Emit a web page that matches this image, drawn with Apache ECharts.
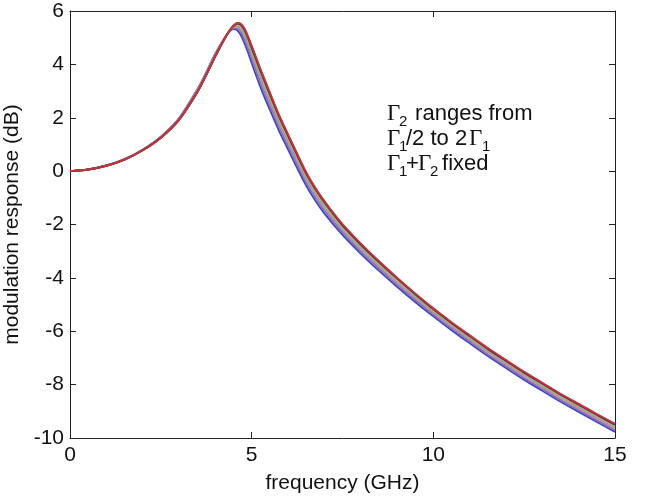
<!DOCTYPE html>
<html>
<head>
<meta charset="utf-8">
<script src="https://cdn.jsdelivr.net/npm/echarts@6/dist/echarts.min.js"></script>
<style>html,body{margin:0;padding:0;background:#fff}#c{width:646px;height:499px}</style>
</head>
<body>
<div id="c"></div>
<script>
// frequency (GHz)
var freq = [0,0.5,1,1.5,2,2.5,3,3.5,3.75,4,4.25,4.4,4.5,4.6,4.7,4.8,4.9,5,5.25,5.5,5.75,6,6.25,6.5,6.75,7,7.5,8,8.5,9,9.5,10,10.5,11,11.5,12,12.5,13,13.5,14,14.5,15];
// modulation response (dB), curves from lowest peak to highest peak
var curveBlue   = [0,0.06,0.21,0.45,0.8,1.29,1.98,3.05,3.7,4.4,4.98,5.25,5.32,5.28,5.1,4.8,4.45,4.05,3.12,2.3,1.52,0.82,0.12,-0.54,-1.10,-1.58,-2.39,-3.09,-3.73,-4.33,-4.90,-5.44,-5.96,-6.45,-6.93,-7.38,-7.82,-8.23,-8.64,-9.02,-9.40,-9.77];
var curvePurple = [0,0.06,0.21,0.45,0.8,1.28,1.97,3.03,3.68,4.38,4.98,5.26,5.36,5.35,5.21,4.94,4.6,4.22,3.29,2.46,1.67,0.96,0.26,-0.42,-0.98,-1.47,-2.29,-3.00,-3.64,-4.25,-4.82,-5.37,-5.89,-6.38,-6.86,-7.31,-7.75,-8.16,-8.57,-8.95,-9.33,-9.70];
var curveGrey   = [0,0.06,0.21,0.44,0.79,1.27,1.95,3.0,3.65,4.35,4.97,5.27,5.39,5.42,5.32,5.08,4.75,4.38,3.46,2.62,1.82,1.1,0.39,-0.29,-0.86,-1.35,-2.19,-2.90,-3.55,-4.16,-4.74,-5.29,-5.81,-6.30,-6.78,-7.23,-7.67,-8.08,-8.49,-8.87,-9.25,-9.62];
var curveTan    = [0,0.06,0.2,0.43,0.78,1.26,1.93,2.97,3.62,4.32,4.96,5.28,5.42,5.49,5.42,5.22,4.9,4.54,3.63,2.79,1.97,1.24,0.53,-0.17,-0.74,-1.24,-2.09,-2.80,-3.46,-4.07,-4.66,-5.22,-5.74,-6.23,-6.71,-7.16,-7.60,-8.01,-8.42,-8.80,-9.18,-9.55];
var curveGreen  = [0,0.06,0.2,0.43,0.78,1.25,1.92,2.96,3.61,4.31,4.95,5.28,5.44,5.52,5.47,5.29,4.98,4.62,3.72,2.87,2.05,1.32,0.61,-0.09,-0.67,-1.17,-2.03,-2.75,-3.41,-4.02,-4.61,-5.17,-5.69,-6.18,-6.66,-7.11,-7.55,-7.96,-8.37,-8.75,-9.13,-9.50];
var curveNavy   = [0,0.06,0.2,0.43,0.78,1.25,1.92,2.95,3.6,4.3,4.95,5.28,5.45,5.54,5.5,5.32,5.02,4.66,3.76,2.91,2.09,1.35,0.63,-0.07,-0.64,-1.14,-2.01,-2.73,-3.39,-4.01,-4.60,-5.16,-5.68,-6.17,-6.65,-7.10,-7.54,-7.95,-8.36,-8.74,-9.12,-9.49];
var curveRed    = [0,0.06,0.2,0.43,0.78,1.25,1.92,2.95,3.6,4.3,4.95,5.28,5.45,5.55,5.52,5.35,5.05,4.7,3.8,2.95,2.12,1.38,0.66,-0.04,-0.62,-1.12,-1.99,-2.71,-3.37,-3.99,-4.58,-5.14,-5.66,-6.15,-6.63,-7.08,-7.52,-7.93,-8.34,-8.72,-9.10,-9.47];

var curves = [curveBlue, curvePurple, curveGrey, curveTan, curveGreen, curveNavy, curveRed];
var colors = ['#3848c8', '#9a6ab0', '#9c9c9c', '#c49a78', '#2e8a40', '#1c2a78', '#d23030'];

var FONT = 'Liberation Sans, Arial, sans-serif';
var SERIF = 'Liberation Serif, Times New Roman, serif';
var FS = 21;
var INK = '#111';

var chart = echarts.init(document.getElementById('c'), null, {renderer: 'canvas'});

var series = curves.map(function (vals, k) {
  return {
    type: 'line',
    xAxisIndex: 0, yAxisIndex: 0,
    showSymbol: false,
    smooth: 0.3,
    silent: true,
    lineStyle: {color: colors[k], width: 1.9},
    data: freq.map(function (f, i) { return [f, vals[i]]; })
  };
});

var axisCommon = {
  axisLine: {show: true, onZero: false, lineStyle: {color: '#222', width: 1}},
  axisTick: {show: true, inside: true, length: 6, lineStyle: {color: '#222'}},
  splitLine: {show: false}
};

function sub(x, y, t) {
  return {type: 'text', x: x, y: y, style: {text: t, font: '15px ' + FONT, fill: INK, verticalAlign: 'middle'}};
}
function gam(x, y) {
  return {type: 'text', x: x, y: y, style: {text: 'Γ', font: '23px ' + SERIF, fill: INK, verticalAlign: 'middle'}};
}
function txt(x, y, t) {
  return {type: 'text', x: x, y: y, style: {text: t, font: '22px ' + FONT, fill: INK, verticalAlign: 'middle'}};
}

chart.setOption({
  backgroundColor: '#fff',
  animation: false,
  grid: {left: 70, right: 31, top: 11, bottom: 61, containLabel: false, outerBoundsMode: 'none'},
  xAxis: [
    Object.assign({
      type: 'value', position: 'bottom', min: 0, max: 15, interval: 5,
      name: 'frequency (GHz)', nameLocation: 'middle', nameGap: 35,
      nameTextStyle: {fontFamily: FONT, fontSize: FS, color: INK},
      axisLabel: {fontFamily: FONT, fontSize: FS, color: INK, margin: 7}
    }, axisCommon),
    Object.assign({
      type: 'value', position: 'top', min: 0, max: 15, interval: 5,
      axisLabel: {show: false}
    }, axisCommon)
  ],
  yAxis: [
    Object.assign({
      type: 'value', position: 'left', min: -10, max: 6, interval: 2,
      name: 'modulation response (dB)', nameLocation: 'middle', nameGap: 29,
      nameTextStyle: {fontFamily: FONT, fontSize: FS, color: INK},
      axisLabel: {fontFamily: FONT, fontSize: FS, color: INK, margin: 6}
    }, axisCommon),
    Object.assign({
      type: 'value', position: 'right', min: -10, max: 6, interval: 2,
      axisLabel: {show: false}
    }, axisCommon)
  ],
  series: series,
  graphic: [
    gam(387, 114), sub(399, 122, '2'), txt(409, 114, ' ranges from'),
    gam(387, 139), sub(399, 147, '1'), txt(406, 139, '/2 to 2'), gam(469, 139), sub(482, 147, '1'),
    gam(387, 164), sub(399, 172, '1'), txt(406, 164, '+'), gam(418, 164), sub(430, 172, '2'), txt(436, 164, ' fixed')
  ]
});
</script>
</body>
</html>
